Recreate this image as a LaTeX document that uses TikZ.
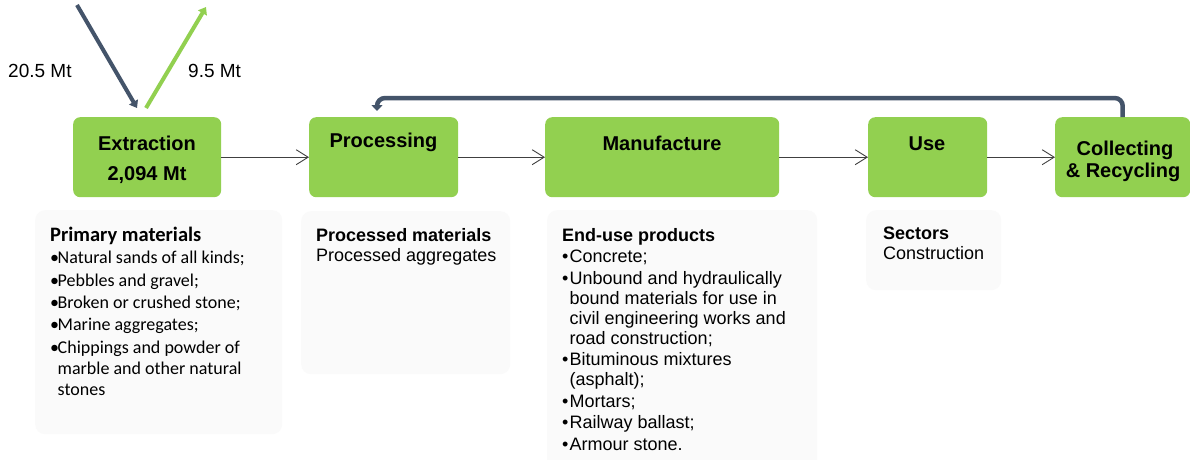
\documentclass[tikz,border=0pt]{standalone}
\usepackage{fontspec}
\setmainfont{Liberation Sans}
\newfontfamily\calfont{Carlito}
\usetikzlibrary{arrows.meta}
\definecolor{gr}{HTML}{92D050}
\definecolor{sl}{HTML}{44546A}
\definecolor{pale}{HTML}{FAFAFA}
\hyphenpenalty=10000
\exhyphenpenalty=10000
\newcommand\bitem[1]{\par\hangindent=7.5pt\hangafter=1\noindent\makebox[7.5pt][l]{\textbullet}#1\par}
\begin{document}
\begin{tikzpicture}[x=1pt,y=-1pt,
  gbox/.style={fill=gr, rounded corners=7pt, anchor=north west, inner sep=0pt},
  tbox/.style={fill=pale, rounded corners=10pt, anchor=north west, inner sep=0pt},
  blab/.style={font=\fontsize{20}{22}\selectfont\bfseries, align=center, inner sep=0pt},
  txt/.style={anchor=north west, inner sep=0pt, align=flush left, font=\fontsize{18}{20}\selectfont},
  flow/.style={draw=black!75, line width=0.9pt, -{Straight Barb[length=12pt,width=15pt,line width=0.9pt]}},
  fb/.style={draw=sl, line width=4.5pt, rounded corners=8pt, -{Triangle[length=6pt,width=11pt]}},
  darr/.style={draw=sl, line width=4pt, -{Triangle[length=7pt,width=10pt]}},
  garr/.style={draw=gr, line width=4pt, -{Triangle[length=7pt,width=10pt]}},
  mt/.style={font=\fontsize{19}{22}\selectfont, inner sep=0pt, anchor=base west}
]
\useasboundingbox (0,0) rectangle (1190,459);
\fill[white] (0,0) rectangle (1190,459);

% green boxes
\node[gbox, minimum width=148pt, minimum height=80pt] (ext) at (73,117) {};
\node[gbox, minimum width=149pt, minimum height=80pt] (proc) at (309,117) {};
\node[gbox, minimum width=234pt, minimum height=80pt] (man) at (545,117) {};
\node[gbox, minimum width=119pt, minimum height=80pt] (use) at (868,117) {};
\node[gbox, minimum width=135pt, minimum height=80pt] (col) at (1055,117) {};

% box labels
\node[blab, anchor=base] (extl) at (147,150) {Extraction};
\node[blab, anchor=base] (extv) at (147,180) {2,094 Mt};
\node[blab, anchor=base] (procl) at (383.5,147) {Processing};
\node[blab, anchor=base] (manl) at (662,150) {Manufacture};
\node[blab, anchor=base] (usel) at (927,150) {Use};
\node[blab, anchor=base] (coll1) at (1125,155) {Collecting};
\node[blab, anchor=base] (coll2) at (1123,177) {\& Recycling};

% flow connectors
\draw[flow] (ext.east) -- (proc.west);
\draw[flow] (proc.east) -- (man.west);
\draw[flow] (man.east) -- (use.west);
\draw[flow] (use.east) -- (col.west);

% feedback
\coordinate (fbend) at (377,111);
\draw[fb] (col.north) -- ++(0,-19) -| (fbend);

% in/out arrows
\coordinate (inS) at (77,5);
\coordinate (inE) at (137,108);
\coordinate (outS) at (146,108);
\coordinate (outE) at (206,7);
\draw[darr] (inS) -- (inE);
\draw[garr] (outS) -- (outE);
\node[mt] (inl) at (8,77) {20.5 Mt};
\node[mt] (outl) at (188,77) {9.5 Mt};

% text boxes
\node[tbox, minimum width=247pt, minimum height=224pt] (primb) at (35,210) {};
\node[tbox, minimum width=209pt, minimum height=163pt] (procb) at (301,211) {};
\node[tbox, minimum width=270pt, minimum height=260pt] (manb) at (547,210) {};
\node[tbox, minimum width=135pt, minimum height=80pt] (useb) at (866,210) {};

\node[txt, text width=222pt, font=\calfont\fontsize{18}{21}\selectfont] (primt) at (50,227) {%
{\fontsize{20.5}{22}\selectfont\textbf{Primary materials}}\setlength{\parskip}{1.3pt}
\bitem{Natural sands of all kinds;}
\bitem{Pebbles and gravel;}
\bitem{Broken or crushed stone;}
\bitem{Marine aggregates;}
\bitem{Chippings and powder of marble and other natural stones}};

\node[txt, text width=200pt] (proct) at (316,228) {%
\textbf{Processed materials}\\Processed aggregates};

\node[txt, text width=234pt] (mant) at (562,228) {%
\textbf{End-use products}\setlength{\parskip}{1.5pt}
\bitem{Concrete;}
\bitem{Unbound and hydraulically bound materials for use in civil engineering works and road construction;}
\bitem{Bituminous mixtures (asphalt);}
\bitem{Mortars;}
\bitem{Railway ballast;}
\bitem{Armour stone.}};

\node[txt, text width=115pt] (uset) at (883,227) {%
\textbf{Sectors}\\Construction};
\end{tikzpicture}
\end{document}
